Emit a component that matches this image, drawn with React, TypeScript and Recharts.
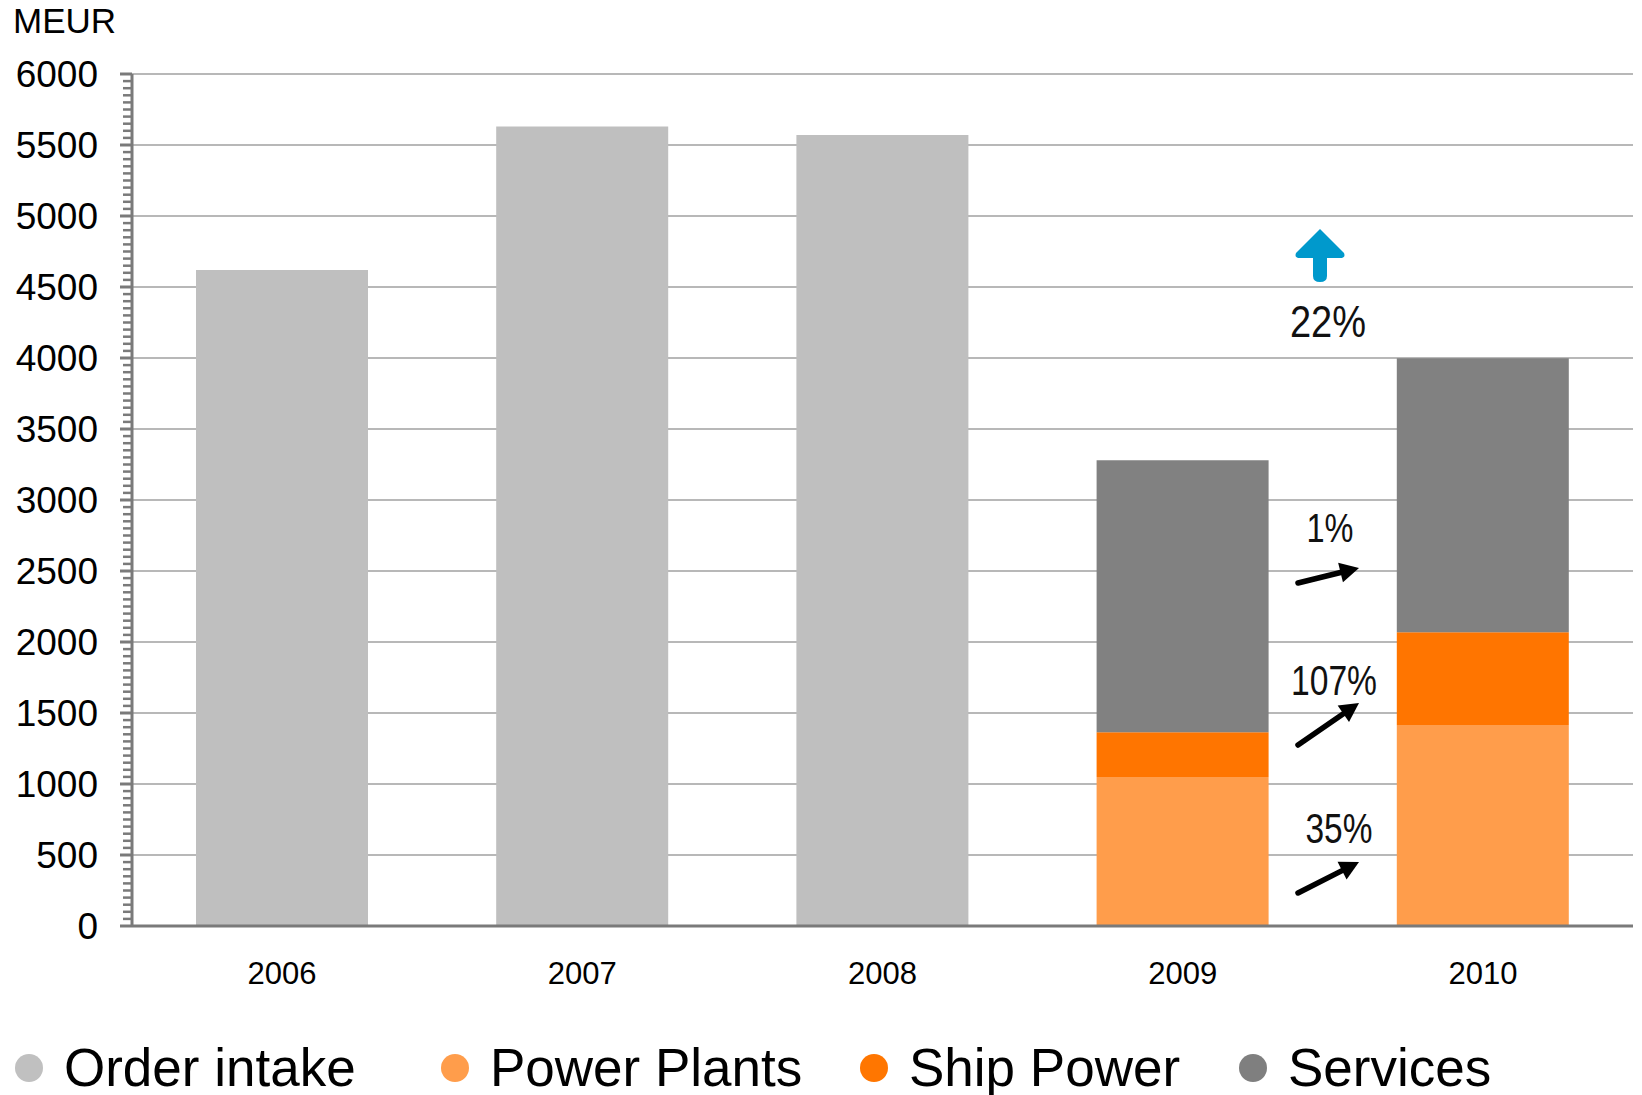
import React from 'react'
import { BarChart, Bar, XAxis, YAxis, CartesianGrid } from 'recharts'

// Order intake by year, MEUR (2009-2010 split by business)
const years = ['2006', '2007', '2008', '2009', '2010']
const orderIntake = [4620, 5630, 5570, null, null]
const powerPlants = [null, null, null, 1050, 1415]
const shipPower = [null, null, null, 315, 653]
const services = [null, null, null, 1915, 1930]

const majorTicks = [0, 500, 1000, 1500, 2000, 2500, 3000, 3500, 4000, 4500, 5000, 5500, 6000]
const minorStep = 50

const legendItems = [
  { name: 'Order intake', color: '#c0c0c0', left: 15 },
  { name: 'Power Plants', color: '#ff9d4b', left: 441 },
  { name: 'Ship Power', color: '#ff7600', left: 860 },
  { name: 'Services', color: '#7f7f7f', left: 1239 },
]

const COLORS = {
  order: '#bfbfbf',
  power: '#ff9d4b',
  ship: '#ff7500',
  services: '#818181',
  axis: '#7a7a7a',
  grid: '#a0a0a0',
  blue: '#0099cc',
}

const data = years.map((year, i) => ({
  year,
  orderIntake: orderIntake[i],
  powerPlants: powerPlants[i],
  shipPower: shipPower[i],
  services: services[i],
}))

const allTicks: number[] = []
for (let v = 0; v <= 6000; v += minorStep) allTicks.push(v)

const arial = 'Arial, "Liberation Sans", sans-serif'

function YTick(props: any) {
  const { x, y, payload } = props
  const v = payload.value as number
  const major = v % 500 === 0
  return (
    <g>
      {major ? (
        <>
          <line x1={x - 12} x2={x} y1={y} y2={y} stroke={COLORS.axis} strokeWidth={3} />
          <text
            x={x - 34}
            y={y}
            dy="0.355em"
            textAnchor="end"
            fontSize={37}
            fontFamily={arial}
            fill="#000"
          >
            {v}
          </text>
        </>
      ) : (
        <line x1={x - 9} x2={x - 1} y1={y} y2={y} stroke={COLORS.axis} strokeWidth={2.5} />
      )}
    </g>
  )
}

function Arrow({ x1, y1, x2, y2 }: { x1: number; y1: number; y2: number; x2: number }) {
  const ang = Math.atan2(y2 - y1, x2 - x1)
  const head = 19
  const half = 10
  const bx = x2 - head * Math.cos(ang)
  const by = y2 - head * Math.sin(ang)
  const px = -Math.sin(ang) * half
  const py = Math.cos(ang) * half
  return (
    <g>
      <line x1={x1} y1={y1} x2={bx} y2={by} stroke="#000" strokeWidth={5.5} strokeLinecap="round" />
      <polygon points={`${x2},${y2} ${bx + px},${by + py} ${bx - px},${by - py}`} fill="#000" />
    </g>
  )
}

function Label({ x, y, w, size, text }: { x: number; y: number; w: number; size: number; text: string }) {
  return (
    <text
      x={x - w / 2}
      y={y}
      fontSize={size}
      fontFamily={arial}
      fill="#111"
      textLength={w}
      lengthAdjust="spacingAndGlyphs"
    >
      {text}
    </text>
  )
}

function Annotations() {
  return (
    <svg
      width={1642}
      height={1095}
      style={{ position: 'absolute', left: 0, top: 0, pointerEvents: 'none' }}
    >
      {/* blue up arrow */}
      <path
        d="M1320 229 L1344 253 Q1346 258 1340 258 L1327 258 L1327 276 Q1327 282 1320 282 Q1313 282 1313 276 L1313 258 L1300 258 Q1294 258 1296 253 Z"
        fill={COLORS.blue}
      />
      <Label x={1328} y={337} w={76} size={44} text="22%" />
      <Label x={1330} y={542} w={47} size={40} text="1%" />
      <Arrow x1={1298} y1={583} x2={1359} y2={568} />
      <Label x={1334} y={695} w={86} size={42} text="107%" />
      <Arrow x1={1298} y1={745} x2={1359} y2={703} />
      <Label x={1339} y={843} w={67} size={42} text="35%" />
      <Arrow x1={1298} y1={893} x2={1359} y2={862} />
    </svg>
  )
}

export default function App() {
  return (
    <div
      style={{
        position: 'absolute',
        left: 0,
        top: 0,
        width: 1642,
        height: 1095,
        background: '#fff',
        fontFamily: arial,
      }}
    >
      <div style={{ position: 'absolute', left: 13, top: 1, fontSize: 35, color: '#000' }}>
        MEUR
      </div>
      <BarChart
        width={1642}
        height={1010}
        data={data}
        margin={{ top: 74, right: 9, bottom: 24, left: 0 }}
        barCategoryGap={64}
      >
        <CartesianGrid
          vertical={false}
          horizontalValues={majorTicks}
          stroke={COLORS.grid}
          strokeWidth={1.5}
        />
        <XAxis
          dataKey="year"
          height={60}
          tickSize={0}
          tickMargin={36}
          tickLine={false}
          axisLine={{ stroke: COLORS.axis, strokeWidth: 3 }}
          tick={{ fontSize: 31, fill: '#000', fontFamily: arial }}
        />
        <YAxis
          width={132}
          domain={[0, 6000]}
          ticks={allTicks}
          interval={0}
          tickSize={0}
          tickMargin={0}
          tickLine={false}
          axisLine={{ stroke: COLORS.axis, strokeWidth: 3 }}
          tick={<YTick />}
        />
        <Bar dataKey="orderIntake" stackId="a" fill={COLORS.order} isAnimationActive={false} />
        <Bar dataKey="powerPlants" stackId="a" fill={COLORS.power} isAnimationActive={false} />
        <Bar dataKey="shipPower" stackId="a" fill={COLORS.ship} isAnimationActive={false} />
        <Bar dataKey="services" stackId="a" fill={COLORS.services} isAnimationActive={false} />
      </BarChart>
      <Annotations />
      {legendItems.map((item) => (
        <div
          key={item.name}
          style={{
            position: 'absolute',
            left: item.left,
            top: 1036,
            display: 'flex',
            alignItems: 'center',
            fontSize: 53,
            lineHeight: '64px',
            color: '#000',
            whiteSpace: 'nowrap',
          }}
        >
          <span
            style={{
              width: 28,
              height: 28,
              borderRadius: '50%',
              background: item.color,
              marginRight: 21,
              display: 'inline-block',
            }}
          />
          {item.name}
        </div>
      ))}
    </div>
  )
}
